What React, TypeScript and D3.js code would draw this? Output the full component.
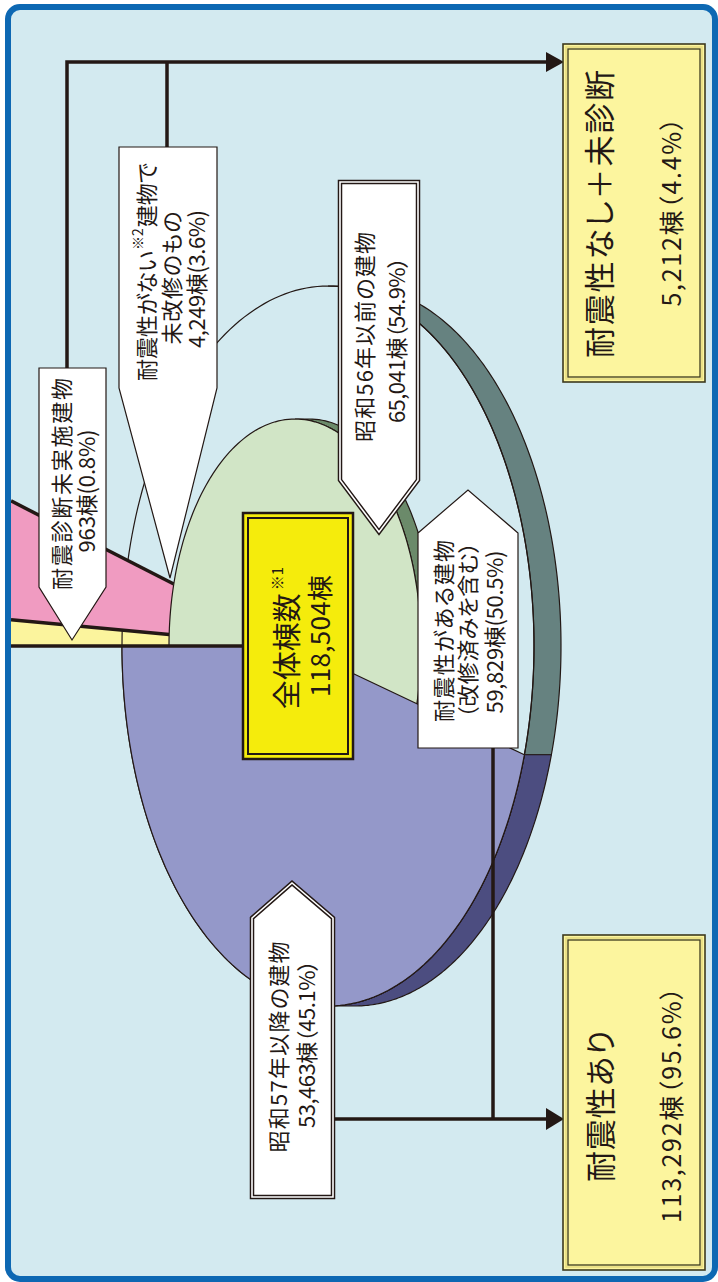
import React from "react";
import * as d3 from "d3";

// ---------- data ----------
const segmentNames = ["昭和57年以降の建物", "耐震診断未実施建物", "耐震性がない建物で未改修のもの", "耐震性がある建物"];
const segmentCounts = [53463, 963, 4249, 59829];
const segmentPercents = [45.1, 0.8, 3.6, 50.5];
const totalCount = 118504;
const preName = "昭和56年以前の建物";
const preCount = 65041;
const prePercent = 54.9;
const resultNames = ["耐震性あり", "耐震性なし＋未診断"];
const resultCounts = [113292, 5212];
const resultPercents = [95.6, 4.4];

// ---------- style / layout ----------
const W = 718;
const H = 1282;
const C = {
  bg: "#d3eaf0",
  frame: "#0d68b3",
  ink: "#231815",
  purple: "#9498c9",
  purpleSide: "#4c4d80",
  teal: "#668280",
  green: "#d1e5c6",
  greenSide: "#6b8a6a",
  pink: "#f09bc1",
  yellowBand: "#fbf49d",
  total: "#f5ec0c",
  result: "#fcf59e",
};
const FONT = "'Noto Sans CJK JP', 'Noto Sans', sans-serif";
const outer = { cx: 328, cy: 646, rx: 206, ry: 360, depth: 27 };
const inner = { cx: 295, cy: 646, rx: 126, ry: 227, depth: 14 };
const xLeft = 11;

type E = { cx: number; cy: number; rx: number; ry: number; depth: number };
const ell = (e: E, t: number): [number, number] => [e.cx + e.rx * Math.cos(t), e.cy + e.ry * Math.sin(t)];
const arcPts = (e: E, t0: number, t1: number, n = 120, dx = 0): [number, number][] =>
  d3.range(n + 1).map((i) => {
    const [x, y] = ell(e, t0 + ((t1 - t0) * i) / n);
    return [x + dx, y] as [number, number];
  });
const lineGen = d3.line();
const poly = (pts: [number, number][]) => (lineGen(pts) || "") + "Z";
const sidePath = (e: E, ta: number, tb: number) => poly([...arcPts(e, ta, tb), ...arcPts(e, tb, ta, 120, e.depth)]);
const farPoint = (t: number): [number, number] => {
  const s = (xLeft - inner.cx) / (inner.rx * Math.cos(t));
  return [xLeft, inner.cy + s * inner.ry * Math.sin(t)];
};

const fmt = d3.format(",");
const pctFmt = d3.format(".1f");
const label = (n: number, p: number, wide: boolean) =>
  wide ? `${fmt(n)}棟（${pctFmt(p)}%）` : `${fmt(n)}棟(${pctFmt(p)}%)`;

const textStyle: React.CSSProperties = { fontFeatureSettings: '"palt"' };

function VText(props: { x: number; y: number; size: number; len?: number; children: React.ReactNode; spacing?: number }) {
  const { x, y, size, len, children, spacing } = props;
  return (
    <text
      transform={`translate(${x},${y}) rotate(-90)`}
      textAnchor="middle"
      dominantBaseline="central"
      fontSize={size}
      fontFamily={FONT}
      fill={C.ink}
      letterSpacing={spacing}
      style={textStyle}
      {...(len ? { textLength: len, lengthAdjust: "spacing" } : {})}
    >
      {children}
    </text>
  );
}

function DoubleShape({ d, fill }: { d: string; fill: string }) {
  return (
    <g>
      <path d={d} fill={fill} stroke={C.ink} strokeWidth={4.5} strokeLinejoin="miter" />
      <path d={d} fill="none" stroke="#fff" strokeWidth={1.6} strokeLinejoin="miter" />
    </g>
  );
}

function ResultBox({ x, y, w, h }: { x: number; y: number; w: number; h: number }) {
  return (
    <g>
      <rect x={x} y={y} width={w} height={h} fill={C.result} stroke="#3d3a1e" strokeWidth={1.6} />
      <rect x={x + 3} y={y + 3} width={w - 6} height={h - 6} fill="none" stroke="#e7dc80" strokeWidth={1.6} />
      <rect x={x + 5} y={y + 5} width={w - 10} height={h - 10} fill="none" stroke="#3d3a1e" strokeWidth={1.3} />
    </g>
  );
}

export default function App() {
  const span0 = (2 * Math.PI * segmentCounts[0]) / d3.sum(segmentCounts);
  const a0 = 1.5 * Math.PI - span0;
  const arcs = d3
    .pie<number>()
    .sort(null)
    .value((d) => d)
    .startAngle(a0)
    .endAngle(a0 + 2 * Math.PI)(segmentCounts);
  const T = (a: number) => a - Math.PI / 2;
  const tPurple0 = T(arcs[0].startAngle);
  const tPurple1 = T(arcs[0].endAngle); // = PI (pointing left)
  const tYellow1 = T(arcs[1].endAngle);
  const tPink1 = T(arcs[2].endAngle);

  const apex: [number, number] = [inner.cx, inner.cy];

  // shapes
  const outerFace = poly(arcPts(outer, 0, 2 * Math.PI, 240));
  const tealSide = sidePath(outer, -Math.PI / 2, tPurple0);
  const purpleSide = sidePath(outer, tPurple0, Math.PI / 2);
  const greenFace = poly(arcPts(inner, 0, 2 * Math.PI, 240));
  const greenSide = sidePath(inner, -Math.PI / 2, Math.PI / 2);
  const purpleFace = poly([apex, ...arcPts(outer, tPurple0, tPurple1)]);

  const yellowWedge = poly([apex, farPoint(tPurple1 + 0.0001), farPoint(tYellow1)]);
  const pinkWedge = poly([apex, farPoint(tYellow1), farPoint(tPink1)]);
  const edgeYellow = [ell(inner, tYellow1), farPoint(tYellow1)];
  const edgePink = [ell(inner, tPink1), farPoint(tPink1)];

  // callout shapes
  const calloutPre = "M340,182H418V480L379,532L340,480Z";
  const calloutYes = "M418,533L468,490L518,533V748H418Z";
  const calloutPost = "M252,918L292,883L333,918V1197H252Z";
  const calloutNo = "M119,147H217V388L170,578L119,388Z";
  const calloutUndiag = "M39,368H106V587L72,640L39,587Z";

  const lw = 3.5;

  return (
    <svg width={W} height={H} viewBox={`0 0 ${W} ${H}`} style={{ position: "absolute", left: 0, top: 0, display: "block" }}>
      <rect x={0} y={0} width={W} height={H} fill="#fff" />
      <rect x={8} y={7} width={707} height={1272} rx={12} ry={12} fill={C.bg} stroke={C.frame} strokeWidth={6} />

      <clipPath id="inside">
        <rect x={11} y={10} width={701} height={1266} />
      </clipPath>

      <g clipPath="url(#inside)">
        {/* outer pie (昭和56年以前 + 以降) */}
        <path d={outerFace} fill={C.bg} stroke="none" />
        <path d={tealSide} fill={C.teal} stroke={C.ink} strokeWidth={1.2} />
        <path d={purpleSide} fill={C.purpleSide} stroke={C.ink} strokeWidth={1.2} />
        {/* bands */}
        <path d={yellowWedge} fill={C.yellowBand} />
        <path d={outerFace} fill="none" stroke={C.ink} strokeWidth={1.2} />
        <path d={pinkWedge} fill={C.pink} />
        <path d={lineGen(edgeYellow as [number, number][]) || ""} stroke={C.ink} strokeWidth={lw} fill="none" />
        <path d={lineGen(edgePink as [number, number][]) || ""} stroke={C.ink} strokeWidth={lw} fill="none" />
        {/* inner green pie */}
        <path d={greenSide} fill={C.greenSide} stroke={C.ink} strokeWidth={1.2} />
        <path d={greenFace} fill={C.green} stroke={C.ink} strokeWidth={1.2} />
        {/* purple slice */}
        <path d={purpleFace} fill={C.purple} stroke={C.ink} strokeWidth={1.2} />
        <path d={lineGen([farPoint(tPurple1 + 0.0001), apex]) || ""} stroke={C.ink} strokeWidth={lw} fill="none" />
      </g>

      {/* connector lines */}
      <g stroke={C.ink} strokeWidth={lw} fill="none">
        <path d="M67,368V62H548" />
        <path d="M167,147V62" />
        <path d="M333,1119H548" />
        <path d="M493,748V1119" />
      </g>
      <path d="M546,52L564,62L546,72Z" fill={C.ink} />
      <path d="M546,1108L564,1119L546,1130Z" fill={C.ink} />

      {/* result boxes */}
      <ResultBox x={563} y={44} w={142} h={338} />
      <VText x={597} y={214} size={31} len={288}>{resultNames[1]}</VText>
      <VText x={670} y={212} size={25} len={189}>{label(resultCounts[1], resultPercents[1], true)}</VText>

      <ResultBox x={563} y={935} w={142} h={335} />
      <VText x={598} y={1106} size={31} len={152}>{resultNames[0]}</VText>
      <VText x={670} y={1105} size={25} len={236}>{label(resultCounts[0], resultPercents[0], true)}</VText>

      {/* total box */}
      <rect x={243} y={513} width={110} height={246} fill={C.total} stroke={C.ink} strokeWidth={2.5} />
      <rect x={248} y={518} width={100} height={236} fill="none" stroke={C.ink} strokeWidth={2} />
      <text transform="translate(285,638) rotate(-90)" textAnchor="middle" dominantBaseline="central" fontFamily={FONT} fill={C.ink} fontSize={29} style={textStyle}>
        全体棟数
        <tspan fontSize={15} dy={-9} dx={3}>※1</tspan>
      </text>
      <VText x={318} y={636} size={26} len={122}>{`${fmt(totalCount)}棟`}</VText>

      {/* callouts */}
      <DoubleShape d={calloutPre} fill="#fff" />
      <VText x={363} y={337} size={22} len={210}>{preName}</VText>
      <VText x={395} y={340} size={22} len={166}>{label(preCount, prePercent, true)}</VText>

      <path d={calloutYes} fill="#fff" stroke={C.ink} strokeWidth={1.2} />
      <VText x={442} y={631} size={22} len={182}>{segmentNames[3]}</VText>
      <VText x={466} y={630} size={22} len={176}>（改修済みを含む）</VText>
      <VText x={493} y={632} size={22} len={163}>{label(segmentCounts[3], segmentPercents[3], false)}</VText>

      <DoubleShape d={calloutPost} fill="#fff" />
      <VText x={277} y={1047} size={22} len={211}>{segmentNames[0]}</VText>
      <VText x={305} y={1044} size={22} len={168}>{label(segmentCounts[0], segmentPercents[0], true)}</VText>

      <path d={calloutNo} fill="#fff" stroke={C.ink} strokeWidth={1.2} />
      <text transform="translate(145,272) rotate(-90)" textAnchor="middle" dominantBaseline="central" fontFamily={FONT} fill={C.ink} fontSize={22} style={textStyle}>
        耐震性がない
        <tspan fontSize={14} dy={-8} dx={1}>※2</tspan>
        <tspan dy={8} dx={1}>建物で</tspan>
      </text>
      <VText x={170} y={278} size={22} len={133}>未改修のもの</VText>
      <VText x={195} y={279} size={22} len={138}>{label(segmentCounts[2], segmentPercents[2], false)}</VText>

      <path d={calloutUndiag} fill="#fff" stroke={C.ink} strokeWidth={1.2} />
      <VText x={60} y={484} size={22} len={212}>{segmentNames[1]}</VText>
      <VText x={85} y={491} size={22} len={123}>{label(segmentCounts[1], segmentPercents[1], false)}</VText>
    </svg>
  );
}
